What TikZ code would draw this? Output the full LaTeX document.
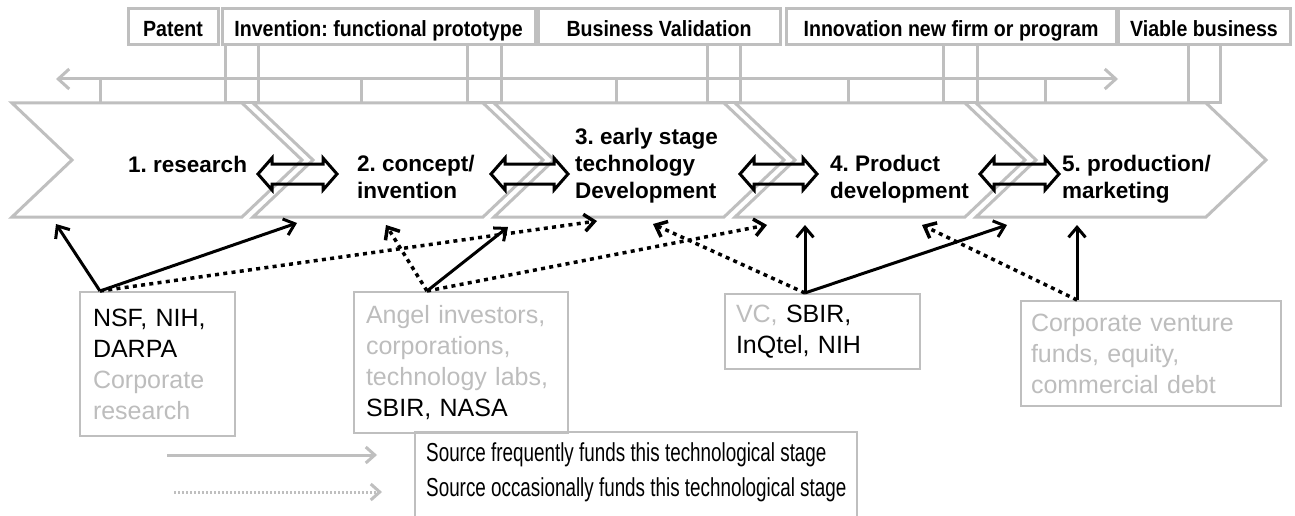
\documentclass[tikz,border=0pt]{standalone}
\usepackage{fontspec}
\setmainfont{Liberation Sans}
\newfontfamily\condfont[FakeStretch=0.89]{Liberation Sans}
\newfontfamily\legfont[FakeStretch=0.725]{Liberation Sans}
\usetikzlibrary{arrows.meta,calc}
\definecolor{lg}{RGB}{191,191,191}
\definecolor{tgray}{RGB}{189,189,189}
\newcommand\dblarr[3]{%
  \coordinate (#1) at ({(#2+#3)/2},174);
  \draw[dbla] (#2,174) -- ++(14,-16) -- ++(0,6) -- ({#3-14},164) -- ++(0,-6) -- (#3,174)
    -- ++(-14,16) -- ++(0,-6) -- ({#2+14},184) -- ++(0,6) -- cycle;}
\frenchspacing
\begin{document}
\frenchspacing
\begin{tikzpicture}[x=1pt,y=-1pt,
  gl/.style={draw=lg,line width=3pt},
  chev/.style={draw=lg,line width=3pt,line join=miter},
  topbox/.style={draw=lg,line width=3pt,inner sep=0pt,minimum height=36pt,
    font=\condfont\bfseries\fontsize{22}{24}\selectfont,text height=20pt,text depth=0pt},
  stage/.style={anchor=north west,inner sep=0pt,align=left,
    font=\bfseries\fontsize{22.5}{27}\selectfont},
  srcbox/.style={draw=lg,line width=2pt,align=left,anchor=north west,inner ysep=0pt,
    font=\fontsize{25}{31}\selectfont},
  dbla/.style={draw=black,line width=3pt,line join=miter},
  sarr/.style={draw=black,line width=3pt,-{Straight Barb[length=10pt,width=17pt]}},
  darr/.style={draw=black,line width=3.5pt,dash pattern=on 4pt off 4.3pt,
    -{Straight Barb[length=10pt,width=17pt]}},
  tlarr/.style={draw=lg,line width=3pt,{Straight Barb[length=11pt,width=20pt]}-{Straight Barb[length=11pt,width=20pt]}},
  lgs/.style={draw=lg,line width=3pt,-{Straight Barb[length=9pt,width=16pt]}},
  lgd/.style={draw=lg,line width=3pt,dash pattern=on 2pt off 2pt,-{Straight Barb[length=9pt,width=16pt]}}
]
\useasboundingbox (0,0) rectangle (1295,516);
\fill[white] (0,0) rectangle (1295,516);
\clip (0,0) rectangle (1295,516);

% bracket rectangles and ticks
\draw[gl] (225,45) rectangle (258,103);
\draw[gl] (467,45) rectangle (501,103);
\draw[gl] (707,45) rectangle (740,103);
\draw[gl] (943,45) rectangle (977,103);
\draw[gl] (1188,45) rectangle (1220,103);
\coordinate (tlL) at (56,79);
\coordinate (tlR) at (1118,79);
\draw[tlarr] (tlL) -- (tlR);
\foreach \x in {100,361,616,848,1045} \draw[gl] (\x,79) -- (\x,103);

% top boxes
\node[topbox,minimum width=90pt] (patent) at (173,27) {Patent};
\node[topbox,minimum width=313pt] (invention) at (378.5,27) {Invention: functional prototype};
\node[topbox,minimum width=242pt] (bizval) at (659,27) {Business Validation};
\node[topbox,minimum width=330pt] (innov) at (951,27) {Innovation new firm or program};
\node[topbox,minimum width=172pt] (viable) at (1204,27) {Viable business};

% chevrons
\draw[chev] (12,103) -- (242,103) -- (302,160) -- (242,217) -- (12,217) -- (72,160) -- cycle;
\draw[chev] (253,103) -- (483,103) -- (543,160) -- (483,217) -- (253,217) -- (313,160) -- cycle;
\draw[chev] (494,103) -- (724,103) -- (784,160) -- (724,217) -- (494,217) -- (554,160) -- cycle;
\draw[chev] (735,103) -- (965,103) -- (1025,160) -- (965,217) -- (735,217) -- (795,160) -- cycle;
\draw[chev] (976,103) -- (1206,103) -- (1266,160) -- (1206,217) -- (976,217) -- (1036,160) -- cycle;

% stage labels
\node[stage] (s1) at (128,155.6) {1. research};
\node[stage] (s2) at (357,154.6) {2. concept/\\invention};
\node[stage] (s3) at (575,127.6) {3. early stage\\technology\\Development};
\node[stage] (s4) at (830,154.6) {4. Product\\development};
\node[stage] (s5) at (1062,154.6) {5. production/\\marketing};

% double arrows between stages
\dblarr{d12}{258}{337}
\dblarr{d23}{491}{568}
\dblarr{d34}{740}{817}
\dblarr{d45}{980}{1059}

% source boxes
\node[srcbox,text width=129pt,inner xsep=13pt,minimum height=144pt] (nsf) at (79,291)
  {NSF, NIH,\\DARPA\\\textcolor{tgray}{Corporate}\\\textcolor{tgray}{research}};
\node[srcbox,text width=190pt,inner xsep=12pt,minimum height=141pt] (angel) at (353,291)
  {\textcolor{tgray}{Angel investors,}\\\textcolor{tgray}{corporations,}\\\textcolor{tgray}{technology labs,}\\SBIR, NASA};
\node[srcbox,text width=173pt,inner xsep=11pt,minimum height=75pt] (vc) at (724,293)
  {\textcolor{tgray}{VC,} SBIR,\\InQtel, NIH};
\node[srcbox,text width=240pt,inner xsep=10pt,minimum height=105pt] (corp) at (1020,300)
  {\textcolor{tgray}{Corporate venture}\\\textcolor{tgray}{funds, equity,}\\\textcolor{tgray}{commercial debt}};

% arrow sources and targets
\coordinate (nsfsrc) at ($(nsf.north west)+(21,0)$);
\coordinate (angsrc) at ($(angel.north west)+(74,0)$);
\coordinate (vcsrc) at ($(vc.north west)+(81,0)$);
\coordinate (cosrc) at ($(corp.north west)+(57,0)$);
\coordinate (tn1) at (56,224);
\coordinate (tn2) at (297,223);
\coordinate (tn3) at (597,221);
\coordinate (ta1) at (386,225);
\coordinate (ta2) at (508,227);
\coordinate (ta3) at (767,225);
\coordinate (tv1) at (653,224);
\coordinate (tv2) at (805,225);
\coordinate (tv3) at (1007,225);
\coordinate (tc1) at (922,225);
\coordinate (tc2) at (1077,225);

\draw[sarr] (nsfsrc) -- (tn1);
\draw[sarr] (nsfsrc) -- (tn2);
\draw[darr] (nsfsrc) -- (tn3);
\draw[darr] (angsrc) -- (ta1);
\draw[sarr] (angsrc) -- (ta2);
\draw[darr] (angsrc) -- (ta3);
\draw[darr] (vcsrc) -- (tv1);
\draw[sarr] (vcsrc) -- (tv2);
\draw[sarr] (vcsrc) -- (tv3);
\draw[darr] (cosrc) -- (tc1);
\draw[sarr] (cosrc) -- (tc2);

% legend
\node[anchor=north west,inner xsep=11pt,inner ysep=0pt,align=left,
  font=\legfont\fontsize{26}{35}\selectfont] (legend) at (415,442)
  {Source frequently funds this technological stage\\Source occasionally funds this technological stage};
\draw[draw=lg,line width=2pt] (415,530) -- (415,432) -| (857,530);
\coordinate (ls1) at (167,455);
\coordinate (le1) at (377,455);
\coordinate (ls2) at (174,492);
\coordinate (le2) at (382,492);
\draw[lgs] (ls1) -- (le1);
\draw[lgd] (ls2) -- (le2);
\end{tikzpicture}
\end{document}
